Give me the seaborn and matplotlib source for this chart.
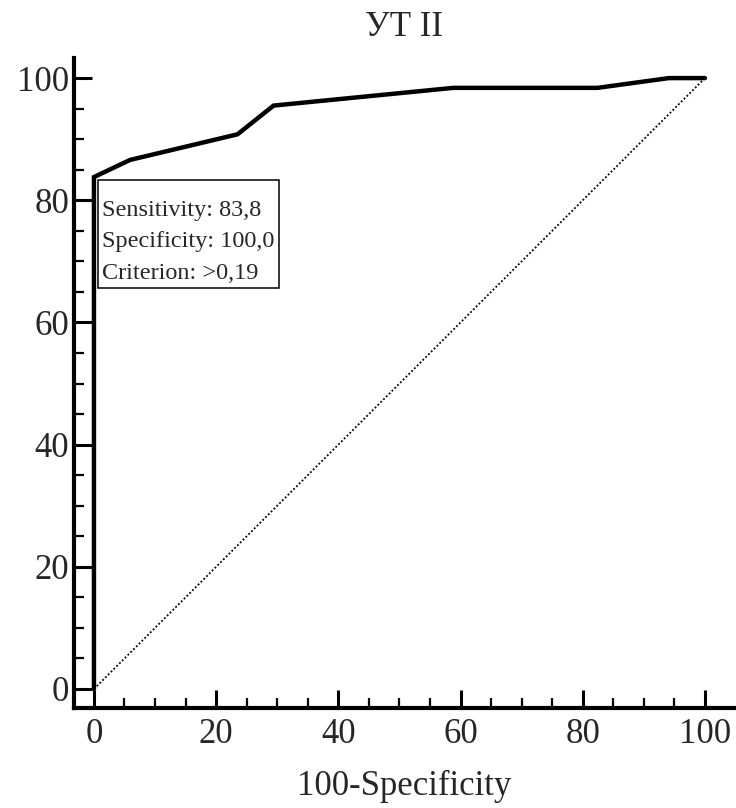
import matplotlib
matplotlib.use("Agg")
import matplotlib.pyplot as plt
from matplotlib.ticker import MultipleLocator
from matplotlib.patches import Rectangle
import seaborn as sns
import pandas as pd

fpr = [0.0, 0.0, 5.9, 23.5, 29.4, 58.8, 82.4, 94.1, 100.0]
tpr = [0.0, 83.8, 86.6, 90.8, 95.5, 98.4, 98.4, 100.0, 100.0]
diag_x = [0.0, 100.0]
diag_y = [0.0, 100.0]
title = "УТ II"
xlabel = "100-Specificity"
box_lines = ["Sensitivity: 83,8", "Specificity: 100,0", "Criterion: >0,19"]

sns.set_style("ticks")
plt.rcParams['font.family'] = ['Liberation Serif', 'DejaVu Serif']

fig = plt.figure(figsize=(7.36, 8.08), dpi=100)
ax = fig.add_axes([0.1005, 0.1238, 0.898, 0.8045])

df = pd.DataFrame({"x": fpr, "y": tpr})
sns.lineplot(data=df, x="x", y="y", sort=False, estimator=None, ax=ax,
             color="black", linewidth=3.2, solid_joinstyle="miter", zorder=3)
ax.plot(diag_x, diag_y, color="black", linestyle=(0, (1, 1.2)), linewidth=1.3, zorder=2)

ax.set_xlim(-3.27, 104.9)
ax.set_ylim(-3.11, 103.3)

for s in ["top", "right"]:
    ax.spines[s].set_visible(False)
for s in ["left", "bottom"]:
    ax.spines[s].set_linewidth(3.0)
    ax.spines[s].set_color("black")

ax.xaxis.set_major_locator(MultipleLocator(20))
ax.xaxis.set_minor_locator(MultipleLocator(5))
ax.yaxis.set_major_locator(MultipleLocator(20))
ax.yaxis.set_minor_locator(MultipleLocator(5))
ax.tick_params(which="major", direction="in", length=13, width=2.2, labelsize=25, color="black", pad=7)
ax.tick_params(which="minor", direction="in", length=7, width=1.6, color="black")
ax.tick_params(axis="y", which="major", pad=3.5)

ax.set_xlabel(xlabel, fontsize=25, labelpad=14)
ax.set_ylabel("")
ax.set_title(title, fontsize=25, pad=16)

# annotation box
ax.add_patch(Rectangle((0.6, 65.6), 29.7, 17.7, facecolor="white", edgecolor="black",
                       linewidth=1.1, zorder=4))
for line, yb in zip(box_lines, [77.4, 72.3, 67.1]):
    ax.text(1.3, yb, line, fontsize=17.5, va="baseline", ha="left", zorder=5)

fig.savefig("out.png", dpi=100)
